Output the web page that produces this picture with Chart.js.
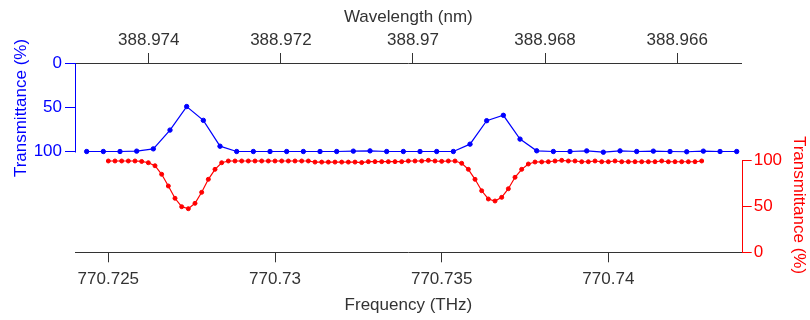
<!DOCTYPE html>
<html>
<head>
<meta charset="utf-8">
<script src="https://cdn.jsdelivr.net/npm/chart.js@4"></script>
<style>
  body { margin: 0; background: #fff; }
  #caja { width: 810px; height: 320px; }
</style>
</head>
<body>
<div id="caja"><canvas id="grafico"></canvas></div>
<script>
// frecuencias (THz) y transmitancias (%)
const frecAzul = [
  770.72435, 770.72485, 770.72535, 770.72585, 770.72635, 770.72685, 770.72735, 770.72785, 770.72835, 770.72885,
  770.72935, 770.72985, 770.73035, 770.73085, 770.73135, 770.73185, 770.73235, 770.73285, 770.73335, 770.73385,
  770.73435, 770.73485, 770.73535, 770.73585, 770.73635, 770.73685, 770.73735, 770.73785, 770.73835, 770.73885,
  770.73935, 770.73985, 770.74035, 770.74085, 770.74135, 770.74185, 770.74235, 770.74285, 770.74335, 770.74385
];
const transAzul = [
  100, 100, 100, 99.6, 97, 75.8, 49.2, 64.8, 94, 100,
  100, 100, 100, 100, 100, 100, 99.6, 99.3, 100, 100,
  100, 100, 100, 91.7, 65.2, 59.1, 86, 99.2, 100, 100,
  99.3, 100.8, 99.3, 100, 99.6, 100, 100.3, 99.6, 100, 100
];
const frecRoja = [
  770.7250, 770.7252, 770.7254, 770.7256, 770.7258, 770.7260, 770.7262, 770.7264, 770.7266, 770.7268,
  770.7270, 770.7272, 770.7274, 770.7276, 770.7278, 770.7280, 770.7282, 770.7284, 770.7286, 770.7288,
  770.7290, 770.7292, 770.7294, 770.7296, 770.7298, 770.7300, 770.7302, 770.7304, 770.7306, 770.7308,
  770.7310, 770.7312, 770.7314, 770.7316, 770.7318, 770.7320, 770.7322, 770.7324, 770.7326, 770.7328,
  770.7330, 770.7332, 770.7334, 770.7336, 770.7338, 770.7340, 770.7342, 770.7344, 770.7346, 770.7348,
  770.7350, 770.7352, 770.7354, 770.7356, 770.7358, 770.7360, 770.7362, 770.7364, 770.7366, 770.7368,
  770.7370, 770.7372, 770.7374, 770.7376, 770.7378, 770.7380, 770.7382, 770.7384, 770.7386, 770.7388,
  770.7390, 770.7392, 770.7394, 770.7396, 770.7398, 770.7400, 770.7402, 770.7404, 770.7406, 770.7408,
  770.7410, 770.7412, 770.7414, 770.7416, 770.7418, 770.7420, 770.7422, 770.7424, 770.7426, 770.7428
];
const transRoja = [
  99.7, 99.7, 99.7, 99.7, 99.7, 99.2, 97.8, 94.5, 85.2, 72.4,
  59, 49.8, 47.6, 53.5, 65.5, 79.7, 90.6, 97.8, 99.7, 99.7,
  99.7, 99.7, 99.7, 99.7, 99.7, 99.7, 99.7, 99.7, 99.7, 99.7,
  99.7, 98.5, 98.5, 98.5, 98.5, 98.5, 98.5, 98.5, 98, 99,
  99, 99, 99, 99, 99, 99.7, 99.7, 99.7, 100.4, 99.7,
  99.3, 99.7, 99.7, 97.2, 90.6, 79.7, 67.2, 58.2, 56, 60,
  69.4, 81.9, 90.6, 96.4, 98.6, 98.7, 98.9, 99.7, 100.4, 99.7,
  99.7, 98.9, 98.9, 99.7, 98.9, 98.9, 99.7, 98.9, 98.9, 98.9,
  98.9, 98.9, 98.9, 99.7, 98.9, 98.9, 98.9, 98.9, 98.9, 99.7
];

const ticksFrec = [770.725, 770.73, 770.735, 770.74];
const ticksLambda = [388.974, 388.972, 388.97, 388.968, 388.966];
const ticksTrans = [0, 50, 100];

const frecMin = 770.724;
const frecMax = 770.744;
const C_NM_THZ = 299792.458; // lambda(nm) = c / f(THz)

const AZUL = '#0000ff';
const ROJO = '#ff0000';
const GRIS = '#333333';

Chart.defaults.font.family = '"Liberation Sans", Arial, sans-serif';
Chart.defaults.font.size = 17;
Chart.defaults.color = GRIS;

const fijarTicks = lista => scale => { scale.ticks = lista.map(v => ({ value: v })); };

// lineas de eje parciales y titulos verticales
const ejesExtra = {
  id: 'ejesExtra',
  afterDraw(chart) {
    const ctx = chart.ctx;
    const yB = chart.scales.yB;
    const yR = chart.scales.yR;
    ctx.save();
    ctx.lineWidth = 1;
    ctx.strokeStyle = AZUL;
    const xa = Math.round(yB.right) + 0.5;
    ctx.beginPath();
    ctx.moveTo(xa, yB.getPixelForValue(0));
    ctx.lineTo(xa, yB.getPixelForValue(100) + 1);
    ctx.stroke();
    ctx.strokeStyle = ROJO;
    const xr = Math.round(yR.left) + 0.5;
    ctx.beginPath();
    ctx.moveTo(xr, yR.getPixelForValue(0));
    ctx.lineTo(xr, yR.getPixelForValue(100));
    ctx.stroke();

    ctx.font = '17px "Liberation Sans", Arial, sans-serif';
    ctx.textAlign = 'center';
    ctx.textBaseline = 'middle';
    ctx.fillStyle = AZUL;
    ctx.save();
    ctx.translate(21, 108);
    ctx.rotate(-Math.PI / 2);
    ctx.fillText('Transmittance (%)', 0, 0);
    ctx.restore();
    ctx.fillStyle = ROJO;
    ctx.translate(799, 205);
    ctx.rotate(Math.PI / 2);
    ctx.fillText('Transmittance (%)', 0, 0);
    ctx.restore();
  }
};

const config = {
  type: 'line',
  data: {
    datasets: [{
      label: 'azul',
      data: frecAzul.map((f, i) => ({ x: f, y: transAzul[i] })),
      xAxisID: 'x',
      yAxisID: 'yB',
      borderColor: AZUL,
      backgroundColor: AZUL,
      borderWidth: 1.2,
      pointRadius: 2.2,
      pointBorderWidth: 1,
      tension: 0
    }, {
      label: 'roja',
      data: frecRoja.map((f, i) => ({ x: f, y: transRoja[i] })),
      xAxisID: 'x',
      yAxisID: 'yR',
      borderColor: ROJO,
      backgroundColor: ROJO,
      borderWidth: 1.2,
      pointRadius: 2,
      pointBorderWidth: 1,
      tension: 0
    }]
  },
  options: {
    responsive: true,
    maintainAspectRatio: false,
    animation: false,
    layout: { padding: 0 },
    plugins: { legend: { display: false }, tooltip: { enabled: false } },
    scales: {
      x: {
        type: 'linear',
        position: 'bottom',
        min: frecMin,
        max: frecMax,
        afterBuildTicks: fijarTicks(ticksFrec),
        afterFit: s => { s.height = 67.7; },
        ticks: { padding: 7, maxRotation: 0, callback: v => String(v), color: GRIS },
        grid: { drawOnChartArea: false, drawTicks: true, tickLength: 10, color: GRIS },
        border: { color: GRIS, width: 1 },
        title: { display: true, text: 'Frequency (THz)', color: GRIS, padding: { top: 0, bottom: 4 } }
      },
      xT: {
        type: 'linear',
        position: 'top',
        reverse: true,
        min: C_NM_THZ / frecMax,
        max: C_NM_THZ / frecMin,
        afterBuildTicks: fijarTicks(ticksLambda),
        afterFit: s => { s.height = 63; },
        ticks: { padding: 2, maxRotation: 0, callback: v => String(v), color: GRIS },
        grid: { drawOnChartArea: false, drawTicks: true, tickLength: 10, color: GRIS },
        border: { color: GRIS, width: 1 },
        title: { display: true, text: 'Wavelength (nm)', color: GRIS, padding: { top: 7, bottom: 0 } }
      },
      yB: {
        type: 'linear',
        position: 'left',
        reverse: true,
        min: 0,
        max: 213.9,
        afterBuildTicks: fijarTicks(ticksTrans),
        afterFit: s => { s.width = 75; },
        ticks: { padding: 3, color: AZUL, callback: v => String(v) },
        grid: { drawOnChartArea: false, drawTicks: true, tickLength: 10, color: AZUL },
        border: { display: false }
      },
      yR: {
        type: 'linear',
        position: 'right',
        min: 0,
        max: 206.7,
        afterBuildTicks: fijarTicks(ticksTrans),
        afterFit: s => { s.width = 68.3; },
        ticks: { padding: 2, color: ROJO, callback: v => String(v) },
        grid: { drawOnChartArea: false, drawTicks: true, tickLength: 10, color: ROJO },
        border: { display: false }
      }
    }
  },
  plugins: [ejesExtra]
};

new Chart(document.getElementById('grafico'), config);
</script>
</body>
</html>
